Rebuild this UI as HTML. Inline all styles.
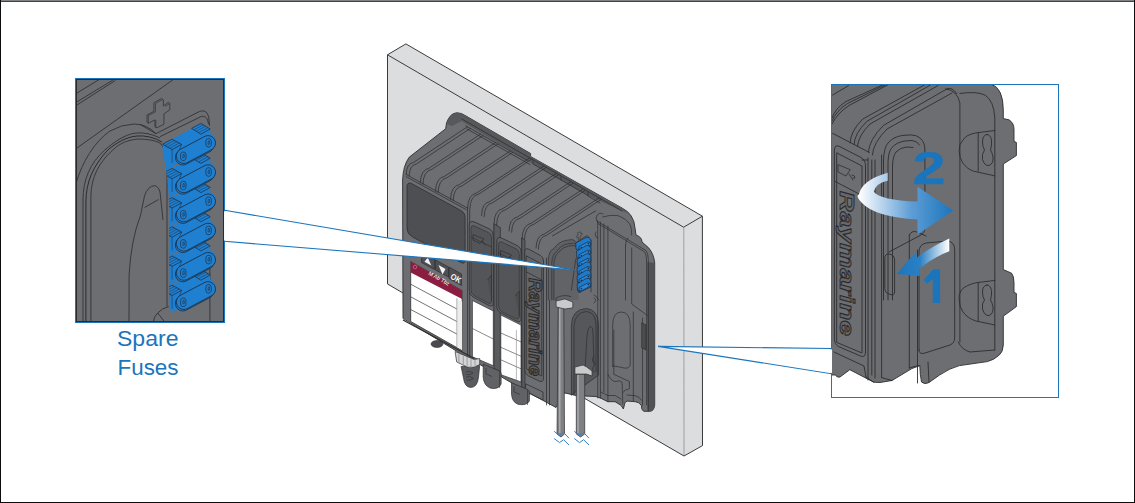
<!DOCTYPE html>
<html><head><meta charset="utf-8">
<style>
html,body{margin:0;padding:0;background:#fff;}
body{width:1135px;height:503px;overflow:hidden;position:relative;}
svg{position:absolute;left:0;top:0;display:block;}
</style></head>
<body>
<svg width="1135" height="503" viewBox="0 0 1135 503" font-family="Liberation Sans, sans-serif">
<!-- defs -->
<defs>
  <linearGradient id="g2" x1="859" y1="0" x2="953" y2="0" gradientUnits="userSpaceOnUse">
    <stop offset="0" stop-color="#ffffff"/><stop offset="0.55" stop-color="#5f9ed6"/><stop offset="1" stop-color="#1b75bc"/>
  </linearGradient>
  <linearGradient id="g1" x1="896" y1="0" x2="949" y2="0" gradientUnits="userSpaceOnUse">
    <stop offset="0" stop-color="#1b75bc"/><stop offset="0.45" stop-color="#2a80c4"/><stop offset="1" stop-color="#ffffff"/>
  </linearGradient>
  <clipPath id="clipL"><rect x="76" y="79" width="148" height="243"/></clipPath>
  <clipPath id="clipR"><rect x="831.5" y="84" width="227" height="313"/></clipPath>
  <clipPath id="clipFuse"><path d="M150,110 L230,110 L230,320 L186,320 L169,309 L169,200 Q168,172 162,150 L150,140 Z"/></clipPath>
<g id="fuse">
<path d="M-46,1.4 L-36.5,-3.6 L-17,-14.4 L-7.7,-19.4 L1.6,-13.8 L1.6,-9 Q6,-7.5 7.3,-2 Q8,4 3.5,6.6 L-21.9,20.1 Q-26,21.5 -30,20 L-46,31 Z" fill="#1f7fd1"/>
<path d="M-46,1.4 L-36.5,-3.6 L-27,1.6 L-36.5,6.8 Z" fill="#1f7fd1" stroke="#1c2a3a" stroke-width="0.7"/>
<path d="M-43.6,2.7 L-34.2,-2.3 M-41.2,4 L-31.8,-1 M-38.8,5.3 L-29.4,0.3" stroke="#1c2a3a" stroke-width="0.45" fill="none"/>
<path d="M-17,-14.4 L-7.7,-19.4 L1.6,-13.8 L-7.7,-8.6 Z" fill="#1f7fd1" stroke="#1c2a3a" stroke-width="0.7"/>
<path d="M-14.6,-13 L-5.3,-18 M-12.2,-11.7 L-2.9,-16.6 M-9.8,-10.3 L-0.5,-15.2" stroke="#1c2a3a" stroke-width="0.45" fill="none"/>
<path d="M-36.5,6.8 L-36.5,20 M-27,1.6 L-30,9" stroke="#1c2a3a" stroke-width="0.5" fill="none"/>
<path d="M-30.3,8.6 L-4.8,-4.9 A7.6,7.6 0 0 1 2.3,8.3 L-23.2,21.8 A7.6,7.6 0 0 1 -30.3,8.6 Z" fill="#1f7fd1" stroke="#1c2a3a" stroke-width="0.75"/>
<path d="M-28.9,6.9 L-3.5,-6.6 A7.5,7.5 0 0 1 3.5,6.6 L-21.9,20.1 A7.5,7.5 0 0 1 -28.9,6.9 Z" fill="#1f7fd1" stroke="#1c2a3a" stroke-width="0.8"/>
<path d="M-0.6,-4.3 Q2.6,-4.8 2.8,-1.5 L2.6,2.5 Q1.8,4.6 -0.5,4.3 Q-2.8,4 -2.8,1.3 L-2.7,-2 Q-2.4,-4 -0.6,-4.3 Z" fill="#1f7fd1" stroke="#1c2a3a" stroke-width="0.65"/>
<path d="M-0.3,-1.8 L1,-1.9 L1,1.3 L-0.6,1.6 Z" fill="none" stroke="#1c2a3a" stroke-width="0.55"/>
<path d="M-25.9,9.2 Q-22.7,8.7 -22.5,12 L-22.7,16 Q-23.5,18.1 -25.8,17.8 Q-28.1,17.5 -28.1,14.8 L-28,11.5 Q-27.7,9.5 -25.9,9.2 Z" fill="#1f7fd1" stroke="#1c2a3a" stroke-width="0.65"/>
<path d="M-25.6,11.7 L-24.3,11.6 L-24.3,14.8 L-25.9,15.1 Z" fill="none" stroke="#1c2a3a" stroke-width="0.55"/>
</g>
</defs>

<!-- frame -->
<rect x="0" y="0" width="1135" height="503" fill="#fff"/>
<rect x="0" y="0" width="1135" height="1" fill="#7f8386"/>
<rect x="0" y="1" width="1135" height="1" fill="#3f4446"/>
<rect x="0" y="0" width="1" height="503" fill="#0b0d0e"/>
<rect x="1134" y="0" width="1" height="503" fill="#0b0d0e"/>
<rect x="0" y="502" width="1135" height="1" fill="#0b0d0e"/>

<!-- wall -->
<g fill="#dcdddf" stroke="none">
  <polygon points="387.5,54.8 405.9,43.9 702.4,216.2 683.6,227.2"/>
  <polygon points="683.6,227.2 702.4,216.2 702.5,445.6 684,456"/>
  <polygon points="387.5,54.8 683.6,227.2 684,456 387.5,284"/>
</g>
<line x1="683.8" y1="227.5" x2="684" y2="455.5" stroke="#9d9ea0" stroke-width="1"/>
<path d="M387.5,284 L387.5,54.8 L405.9,43.9 L702.4,216.2 L702.5,445.6 L684,456 L387.5,284 Z M387.5,54.8 L683.6,227.2 L702.4,216.2" fill="none" stroke="#3b3b3b" stroke-width="1" stroke-linejoin="round"/>

<!-- device -->
<g id="device" stroke="#2e2e30" stroke-width="0.9" stroke-linejoin="round" stroke-linecap="round">
  <!-- silhouette -->
  <path d="M403,318 L402.6,180 Q403,166 409.1,157.3 L445.7,128.7 L446.5,123.1 Q450,113 456.8,112.8 Q461,112.5 466,116 L530.6,153.5 L530.6,156.5 L622,208 Q634,214 635,228 L636,235 Q642,237 642,242 L648.4,247.6 Q654,254 654.7,263 L654.7,405 Q654,411.3 649.6,411.3 L643.7,411.3 Q641.3,410 641.3,405.3 Q639,402 635.3,401.7 L627,401.1 Q624.6,402 624.6,404.1 L623.4,409 L621,405.3 L615,401.7 L607.9,401.7 L600.7,398.2 L596,396.5 L577,395.7 L564.5,392.9 L556,407.5 L522,389 L500,376 L458,352 Z" fill="#6d6e71"/>
</g>
<g fill="none" stroke="#2e2e30" stroke-width="0.75" stroke-linecap="round" stroke-linejoin="round">
  <!-- back plate lip -->
  <path d="M447,124 Q449,114 456.8,112.8 Q461,112.5 466,116 L530.6,153.5 L530.6,156.5 L622,208 Q626,210.5 627,213 L588,195.5 L561,180 L533,164 L461.6,121 L452,126 Z" fill="#57585b" stroke="none"/>
  <path d="M461.9,119 L533.4,160 L561.3,176 L588,191.5 L622,211"/>
  <path d="M465.8,125.9 L527.5,160.7"/>
  <path d="M467,129 L530,164.5"/>
  <path d="M533,160.5 L533,164 L561,180"/>
  <path d="M561,176.5 L561,180 L588,195.5"/>
  <path d="M588,192 L588,196 L600,203"/>
<path d="M420.3,183.0 Q420.6,169.8 429.3,168.0 L480.5,134.2"/>
<path d="M422.9,184.3 Q423.2,171.1 431.9,169.3 L483.0,135.6"/>
<path d="M435.5,191.3 Q435.8,178.1 444.5,176.3 L495.5,142.6"/>
<path d="M438.1,192.6 Q438.4,179.4 447.1,177.6 L498.0,144.0"/>
<path d="M450.5,199.5 Q450.8,186.2 459.5,184.5 L510.3,151.0"/>
<path d="M453.1,200.8 Q453.4,187.6 462.1,185.8 L512.7,152.4"/>
<path d="M406.2,174.5 Q406.5,163.5 413.4,162.5 L467.4,126.8"/>
<path d="M409.2,176.0 Q409.5,165.0 416.4,164.0 L470.3,128.4"/>
<path d="M467.6,208.0 Q467.9,194.8 476.6,193.0 L529.1,158.3"/>
<path d="M469.8,209.1 Q470.1,195.8 478.8,194.1 L531.2,159.5"/>
<path d="M481.5,215.5 Q481.8,203.0 489.9,201.5 L543.3,166.3"/>
<path d="M484.1,216.8 Q484.4,204.3 492.5,202.8 L545.7,167.7"/>
<path d="M494.0,223.5 Q494.3,210.2 503.0,208.5 L555.9,173.6"/>
<path d="M496.6,224.8 Q496.9,211.6 505.6,209.8 L558.3,175.0"/>
<path d="M509.0,231.0 Q509.3,218.5 517.4,217.0 L570.6,181.9"/>
<path d="M511.6,232.3 Q511.9,219.8 520.0,218.3 L573.0,183.3"/>
<path d="M522.0,239.0 Q522.3,225.0 531.6,223.0 L582.9,189.1"/>
<path d="M524.4,240.2 Q524.7,226.2 534.0,224.2 L585.2,190.4"/>
<path d="M536.0,248.0 Q536.3,235.5 544.4,234.0 L598.8,198.1"/>
<path d="M538.4,249.2 Q538.7,236.7 546.8,235.2 L601.1,199.4"/>

  <!-- module 1 front top edge -->
  <path d="M406.2,174.5 L467.3,208"/>
  <path d="M406.2,176.7 L466.5,209.8"/>
  <!-- module boundaries -->
  <path d="M467.6,208 L467.6,356"/>
  <path d="M469.7,210 L469.7,360"/>
  <path d="M494,224 L494,366"/>
  <path d="M496.8,225 L496.8,370"/>
  <path d="M521.8,238 L521.8,390"/>
  <path d="M524.2,240 L524.2,392"/>
  <path d="M552.5,235.9 L595.7,210.9"/>
</g>
<!-- separators -->
<path d="M494,224 L500.3,227.5 L500.3,372 L494,368.5 Z" fill="#5a5b5e" stroke="#2e2e30" stroke-width="0.7"/>
<path d="M521.8,238 L525,240 L525,392 L521.8,390 Z" fill="#5a5b5e" stroke="#2e2e30" stroke-width="0.7"/>
<!-- screen -->
<path d="M407,186 Q407,182.5 411,183.2 L461,210.6 Q465.1,213 465.1,217.5 L465.1,260 Q465.1,264.5 461,262.5 L413,237.3 Q407,234 407,229 Z" fill="#4e4f52" stroke="#2e2e30" stroke-width="0.8"/>
<!-- buttons -->
<g stroke="#2e2e30" stroke-width="0.7">
  <path d="M421.5,252.5 L434.5,259.5 L434.5,269.5 L421.5,262.5 Z" fill="#4f5053"/>
  <path d="M435.5,260 L448.5,267 L448.5,277 L435.5,270 Z" fill="#4f5053"/>
  <path d="M449,267 L461.5,274 L461.5,285.5 L449,278.5 Z" fill="#4f5053"/>
</g>
<path d="M427.8,257.5 L431.3,265.5 L424.5,261.8 Z" fill="#f4f4f4"/>
<path d="M438.5,265 L445.5,269 L442.5,274.5 Z" fill="#f4f4f4"/>
<text x="0" y="0" font-size="8.5" font-weight="bold" fill="#f4f4f4" transform="translate(449.8,278.2) rotate(29) scale(0.85,1)">OK</text>
<!-- label module 1 -->
<path d="M410.7,261.5 L462.1,290.5 L462.1,350.5 L410.7,321.5 Z" fill="#ffffff" stroke="#2e2e30" stroke-width="0.8"/>
<path d="M410.7,261.5 L462.1,290.5 L462.1,299 L410.7,272.5 Z" fill="#8b1d41"/>
<path d="M456.8,299 L462.1,301.5 L462.1,350 L456.8,347 Z" fill="#ececed"/>
<g stroke="#3a3a3a" stroke-width="0.7" fill="none">
  <path d="M410.7,284.2 L456.8,309"/>
  <path d="M410.7,296.8 L456.8,321.5"/>
  <path d="M410.7,309.5 L456.8,334"/>
  <path d="M456.8,298 L456.8,347" stroke="#8a8a8a" stroke-width="0.6"/>
</g>
<text x="0" y="0" font-size="5.5" fill="#fff" transform="translate(428,274.5) rotate(29)">M Ab Tbz</text>
<circle cx="415" cy="267" r="1.8" fill="none" stroke="#d9a0b5" stroke-width="0.5"/>
<ellipse cx="437" cy="344" rx="6" ry="3.5" fill="#4a4b4e" stroke="#2e2e30" stroke-width="0.6"/>
<!-- module 2 tab -->
<path d="M469.2,226 Q469.2,220 474,221.8 L489.8,229.1 Q493.3,231 493.3,236 L493.3,303 Q493.3,307.5 489,305.5 L473,297 Q469.2,295 469.2,290 Z" fill="#626366" stroke="#2e2e30" stroke-width="0.8"/>
<path d="M471,229 Q471,224.5 474.5,226 L488.5,232.6 Q491.5,234 491.5,238 L491.5,301 Q491.5,304.5 488,303 L474,295.5 Q471,294 471,290 Z" fill="#545558" stroke="#2e2e30" stroke-width="0.6"/>
<path d="M471,237 L491.5,247" stroke="#2e2e30" stroke-width="0.6" fill="none"/>
<path d="M473,234.5 L473,240 L480,243.5 L484,239 Z M482,240.5 L485.5,245.5" stroke="#2e2e30" stroke-width="0.7" fill="none"/>
<path d="M487.5,280 L491.5,275 L491.5,300" stroke="#2e2e30" stroke-width="0.6" fill="#4c4d50"/>
<!-- module 3 tab -->
<path d="M496.8,242 Q496.8,236 501.5,238 L517,245.5 Q521.1,247.5 521.1,252 L521.1,318.5 Q521.1,323 516.5,321 L501,313 Q496.8,311 496.8,306 Z" fill="#626366" stroke="#2e2e30" stroke-width="0.8"/>
<path d="M498.6,245 Q498.6,240.5 502,242 L516,248.8 Q519.3,250.5 519.3,254.5 L519.3,316.5 Q519.3,320 515.5,318.5 L501.5,311.5 Q498.6,310 498.6,306 Z" fill="#545558" stroke="#2e2e30" stroke-width="0.6"/>
<path d="M498.6,253 L519.3,263" stroke="#2e2e30" stroke-width="0.6" fill="none"/>
<path d="M500.5,250.5 L500.5,256 L507.5,259.5 L511.5,255 Z M509.5,256.5 L513,261.5" stroke="#2e2e30" stroke-width="0.7" fill="none"/>
<path d="M515.3,296 L519.3,291 L519.3,316" stroke="#2e2e30" stroke-width="0.6" fill="#4c4d50"/>
<!-- labels module 2 & 3 -->
<path d="M472.4,300.5 L493.3,311 L493.3,365.8 L472.4,356.8 Z" fill="#fff" stroke="#2e2e30" stroke-width="0.7"/>
<path d="M500.8,315 L521,325 L521,381.9 L500.8,374.7 Z" fill="#fff" stroke="#2e2e30" stroke-width="0.7"/>
<g stroke="#3a3a3a" stroke-width="0.6" fill="none">
  <path d="M472.4,328.5 L493.3,339"/>
  <path d="M500.8,333 L521,341.9 M500.8,347.3 L521,356.2 M500.8,359.8 L521,368.8"/>
  <path d="M516.4,330 L516.4,380" stroke="#8a8a8a"/>
</g>

<!-- device2 -->
<!-- module 4: raymarine strip -->
<g stroke="#2e2e30" fill="none" stroke-width="0.75" stroke-linecap="round" stroke-linejoin="round">
  <path d="M524.7,252 Q524.7,247.5 528.5,249 L540.5,255.5 Q543.5,257 543.5,261 L543.5,378 Q543.5,383 539,381 L528.5,376 Q524.7,374 524.7,370 Z" fill="#646568"/>
  <path d="M526.6,256 L541.8,264 L541.8,376 L526.6,369 Z"/>
  <path d="M526.6,272 L541.8,280"/>
  <path d="M526,384 L543,392 L543,400 L526,392 Z"/>
  <path d="M546.5,258 L546.5,405"/>
  <path d="M549.5,258 L549.5,405"/>
</g>
<text x="0" y="0" font-size="17.5" font-weight="bold" font-style="italic" fill="#5d5e61" stroke="#2a2a2c" stroke-width="0.95" transform="translate(528.5,278) rotate(90)" textLength="98" lengthAdjust="spacingAndGlyphs">Raymarine</text>
<path d="M529,262 L533,264 L531,267 M535,266 L538,268" stroke="#2e2e30" stroke-width="0.6" fill="none"/>
<!-- fuse bay -->
<path d="M548.5,300 L548.5,262 Q549,250 554,248.7 Q558,242 566.4,240.3 L572,239.6 Q574,239.8 576.2,242.4 L576.5,300 Z" fill="#606164" stroke="none"/>
<path d="M553.9,300 L553.9,264 Q554.5,256 558.1,252.8 Q562.5,247 568.5,246 L574,245.5 Q577,246.5 578.5,250 L578.5,300 Z" fill="#626366" stroke="none"/>
<g stroke="#2e2e30" fill="none" stroke-width="0.7" stroke-linecap="round" stroke-linejoin="round">
  <path d="M548.3,300 L548.3,259.8 Q549,250 553.9,248.7 Q558,242 566.4,240.3 L572,239.6 Q574,239.8 576.2,242.4 L585.9,236.1 Q588,235.5 588.7,236.8 L589,240"/>
  <path d="M551.8,300 L551.8,262.6 Q552.5,254 556.7,251.4 Q561,245 567.8,243.8 L573.4,243.1 Q575.5,243.5 577.6,245.9"/>
  <path d="M553.9,300 L553.9,264 Q554.5,256 558.1,252.8 Q562.5,247 568.5,246 L574,245.5 Q577,246.5 578.5,250 L578.5,292"/>
  <path d="M571.4,290 L575.6,259.8 Q576.5,256.5 579.1,256.3 Q580.8,256.5 581.2,258.4 L581.9,266.7"/>
  <path d="M577.5,233 L580,231.7 L580.5,233.5 L582,233 L582,235 L580.3,236 L580.3,238.5 L578.2,239.6 L578.2,237 L576.8,237.8 L576.8,235.8 L578.2,235 Z" stroke-width="0.5"/>
  <path d="M591,240 L591,292"/>
</g>
<!-- small fuses -->


<g stroke="#1b2a3c" stroke-width="0.7" stroke-linejoin="round">
<path d="M575.7,243.0 L586,237.5 Q590,236.5 590.8,240.5 L590.8,246.0 L579,251.5 L576.0,249.0 Z" fill="#1e7bcc"/>
<path d="M579,246.5 L588,241.8 Q591,242.0 590.5,245.0 L581,250.0 Q578,250.0 579,246.5" fill="#2a86d6"/>
<path d="M577.5,249.0 L581,251.2" fill="none"/>
<circle cx="588.3" cy="243.8" r="0.8" fill="#1b2a3c" stroke="none"/><circle cx="581.4" cy="247.6" r="0.8" fill="#1b2a3c" stroke="none"/>
<path d="M576.5,251.2 L586,245.7 Q590,244.7 590.8,248.7 L590.8,254.2 L579,259.7 L576.8,257.2 Z" fill="#1e7bcc"/>
<path d="M579,254.7 L588,250.0 Q591,250.2 590.5,253.2 L581,258.2 Q578,258.2 579,254.7" fill="#2a86d6"/>
<path d="M577.5,257.2 L581,259.4" fill="none"/>
<circle cx="588.3" cy="252.0" r="0.8" fill="#1b2a3c" stroke="none"/><circle cx="581.4" cy="255.8" r="0.8" fill="#1b2a3c" stroke="none"/>
<path d="M577.1,259.4 L586,253.9 Q590,252.9 590.8,256.9 L590.8,262.4 L579,267.9 L577.4,265.4 Z" fill="#1e7bcc"/>
<path d="M579,262.9 L588,258.2 Q591,258.4 590.5,261.4 L581,266.4 Q578,266.4 579,262.9" fill="#2a86d6"/>
<path d="M577.5,265.4 L581,267.6" fill="none"/>
<circle cx="588.3" cy="260.2" r="0.8" fill="#1b2a3c" stroke="none"/><circle cx="581.4" cy="264.0" r="0.8" fill="#1b2a3c" stroke="none"/>
<path d="M577.1,267.6 L586,262.1 Q590,261.1 590.8,265.1 L590.8,270.6 L579,276.1 L577.4,273.6 Z" fill="#1e7bcc"/>
<path d="M579,271.1 L588,266.4 Q591,266.6 590.5,269.6 L581,274.6 Q578,274.6 579,271.1" fill="#2a86d6"/>
<path d="M577.5,273.6 L581,275.8" fill="none"/>
<circle cx="588.3" cy="268.4" r="0.8" fill="#1b2a3c" stroke="none"/><circle cx="581.4" cy="272.2" r="0.8" fill="#1b2a3c" stroke="none"/>
<path d="M577.1,275.8 L586,270.3 Q590,269.3 590.8,273.3 L590.8,278.8 L579,284.3 L577.4,281.8 Z" fill="#1e7bcc"/>
<path d="M579,279.3 L588,274.6 Q591,274.8 590.5,277.8 L581,282.8 Q578,282.8 579,279.3" fill="#2a86d6"/>
<path d="M577.5,281.8 L581,284.0" fill="none"/>
<circle cx="588.3" cy="276.6" r="0.8" fill="#1b2a3c" stroke="none"/><circle cx="581.4" cy="280.4" r="0.8" fill="#1b2a3c" stroke="none"/>
<path d="M577.1,284.0 L586,278.5 Q590,277.5 590.8,281.5 L590.8,287.0 L579,292.5 L577.4,290.0 Z" fill="#1e7bcc"/>
<path d="M579,287.5 L588,282.8 Q591,283.0 590.5,286.0 L581,291.0 Q578,291.0 579,287.5" fill="#2a86d6"/>
<path d="M577.5,290.0 L581,292.2" fill="none"/>
<circle cx="588.3" cy="284.8" r="0.8" fill="#1b2a3c" stroke="none"/><circle cx="581.4" cy="288.6" r="0.8" fill="#1b2a3c" stroke="none"/>
</g>
<!-- lower bay -->
<g stroke="#2e2e30" fill="none" stroke-width="0.7" stroke-linecap="round" stroke-linejoin="round">
  <path d="M571.4,395 L571.4,325 Q572,309 586.7,308.5 Q598,309.5 598.6,325 L598.6,375 L571.4,395" fill="#56575a"/>
  <path d="M574,395 L574,326 Q575,312 586.7,311.5 Q596,312.5 596,326 L596,372"/>
  <path d="M585,370 L587,336 Q588,326.5 591,326.5 Q593,327 593,333 L594,366"/>
  <path d="M556,300.9 L556,298 Q563,294 571,296.5"/>
  <path d="M598.6,300 Q597,296 594,295 M594,298 L596,300 L594,303"/>
</g>
<!-- right plate -->
<path d="M647.2,262 L654.7,263 L654.7,405 Q654,411.3 649.6,411.3 L647.2,411 Z" fill="#525356" stroke="none"/>
<g stroke="#2e2e30" fill="none" stroke-width="0.7" stroke-linecap="round" stroke-linejoin="round">
  <path d="M597.7,221 L597.7,398"/>
  <path d="M600.4,222 L600.4,398.2"/>
  <path d="M603.9,224 L603.9,392"/>
  <path d="M607.9,226 L607.9,401.7"/>
  <path d="M597,221.1 L645.7,250.4 Q648.4,253 648.4,262.9 L648.4,411"/>
  <path d="M598,223.5 L644.5,251.8 Q646.6,254 646.6,263 L646.6,405"/>
  <path d="M602.5,217 Q610,214.5 617.8,215.6 Q627,219 630.4,225.3 Q631.7,229 631.7,235"/>
  <path d="M625.5,245 Q626,240 628,238 M625.5,245 L625.5,300"/>
  <path d="M631.7,248 L631.7,304 L647.6,315.6"/>
  <path d="M642.5,318 L642.5,405.3"/>
  <path d="M633.3,312 L633.3,401"/>
  <path d="M612.7,366 L612.7,325 Q612.7,312 621.5,312 Q630.2,312.5 630.2,325 L630.2,364 Q630,369 624,368 L617,366.5 Q612.7,366 612.7,366 Z"/>
  <path d="M607.9,374.3 Q611,381 615,381.5 L619.8,380.9 Q622.2,381.5 622.2,383.8 L622.8,404"/>
  <path d="M613.8,330 L613.8,374.3 L629.4,381.5 L629.4,388.6 Q628,389.8 625.8,389.8 Q623.4,391 623.4,392.2"/>
  <path d="M600.7,392 L607.9,395.5 L615,395.5 L621,399"/>
  <path d="M627,395 L635.3,395.7 Q640,397 641.3,400"/>
  <path d="M642,323 L646,325 L646,350 L642,348 Z" fill="#4b4c4e"/>
  <path d="M597.5,222 L596,218 Q597,214 600,213 L603,214 M596,232 Q594,234 596,237 L598,238"/>
  <path d="M594,356 Q591,358 593,362 L596,364 M594,366 Q591,369 594,372"/>
</g>
<!-- cables -->
<g stroke="#2e2e30" stroke-width="0.7">
  <path d="M558.2,307 L563.8,307 L564.5,434 L561,437 L557,434 Z" fill="#7f8083"/>
  <path d="M559.8,308 L559.8,433" stroke="#b2b3b5" stroke-width="1.2"/>
  <path d="M576.3,374 L584.7,374 L584.7,434 L580.5,437 L576.3,434 Z" fill="#7f8083"/>
  <path d="M578,375 L578,433" stroke="#b2b3b5" stroke-width="1.2"/>
  <path d="M556.1,301 L565,299 L572.8,302 L572.8,307.8 L565,309 L556.1,307 Z" fill="#c9cacc"/>
  <path d="M574.9,367.1 L583,365 L586.7,367 L592,371 L592,376 L586.7,374.1 L574.9,374 Z" fill="#c9cacc"/>
</g>
<g stroke="#2f80c9" stroke-width="1" fill="none">
  <path d="M554.1,431.3 L559.5,435.6 L563.6,432.5 L569,438.2"/>
  <path d="M554.1,438.5 L559.5,442.6 L563.6,439.7 L569,445"/>
  <path d="M574.3,431.3 L579.5,435.6 L583.6,432.5 L589,438.2"/>
  <path d="M574.3,438.5 L579.5,442.6 L583.6,439.7 L589,445"/>
</g>
<!-- connectors under modules -->
<g stroke="#2e2e30" stroke-width="0.7" stroke-linejoin="round">
  <path d="M461.1,366.5 L479.7,365.5 L478.5,377 Q477.5,387.5 470.5,387.5 Q464.5,387 463.5,378 Z" fill="#5a5b5e"/>
  <path d="M466,372 Q470,370 473,373 Q470,375.5 466.5,374.5 M466,377 Q470,375.5 473.5,378.5 Q470,381 466.5,380" fill="none" stroke-width="0.6"/>
  <path d="M455.1,351.5 L474.2,359.5 L479.7,358.5 L479.7,364.6 Q474,368.5 467.7,367.3 L456.7,361.9 Z" fill="#d4d5d7"/>
  <path d="M458.9,353 L458.9,363.5 M463.3,355 L463.3,365.5 M467.1,357 L467.1,367 M471,358.5 L471,367.5 M475,359.5 L475,367" fill="none" stroke="#9c9da0" stroke-width="1"/>
  <path d="M483.2,364 L499.6,371 L501.1,373 L501.1,384 Q498.5,390 490,388 Q483.8,385.5 483.2,377 Z" fill="#616265"/>
  <path d="M486,368 L486,374 L492,376.5 M499.6,371 L499.6,388" fill="none" stroke-width="0.6"/>
  <path d="M511.5,382.7 L527.5,389.5 L529.4,391 L529.4,401 Q526.5,406 518,404.3 Q512,402 511.5,394 Z" fill="#616265"/>
  <path d="M514,386.5 L514,392 L520,394.5 M527.5,389.5 L527.5,405" fill="none" stroke-width="0.6"/>
</g>
<path d="M403,320 L474.2,358.5" stroke="#2e2e30" stroke-width="1.3" fill="none"/>

<!-- left -->
<g>
<rect x="75.5" y="78.5" width="149" height="244" fill="#6d6e71" stroke="#1b75bc" stroke-width="1"/>
<g clip-path="url(#clipL)" fill="none" stroke="#2b2b2d" stroke-width="0.8">
  <path d="M76.9,93.1 L99,79.6"/>
  <path d="M76.9,101.9 L113,80"/>
  <path d="M76.9,105 L115.5,80.4"/>
  <path d="M76.9,148 L174,79"/>
  <!-- bay outline -->
  <path d="M76.5,182 C 82,163 94,142 110,131 Q 121,124.5 134,124 Q 147,124 155.9,133.7 L199.6,111.4 Q206,109 208.6,116.3 L209.6,125.8"/>
  <path d="M159.9,136.7 L201.6,116.3 Q206,116 207.6,120 L208.6,124.3"/>
  <path d="M140,124.3 L155.9,133.7"/>
  <path d="M83,322 L83,200 C 83,180 90,163 104.8,150 C 113,143 124,134.5 136,133 Q 148,132 160,138"/>
  <path d="M85.9,322 L85.9,202 C 86,182 93,166 107.8,150 C 116,143 126,137 137,136 Q 150,135 162,142" stroke-width="1"/>
  <path d="M90.9,322 L90.9,196 C 91,178 99,162 112.8,150 C 120,143 128,140 138,139 Q 152,139 160,143 Q 165,148 167,160 L167,306.6"/>
  <!-- blade -->
  <path d="M129,322 L129.1,274.8 Q 131,240 140.6,215 L144.6,195.5 Q 148,186 154.5,185.6 Q 158.5,186.5 160,192 L163,220"/>
  <path d="M144.6,207.5 L158.5,199.5"/>
  <!-- bottom step -->
  <path d="M153,323 Q154,316 157.7,313 Q162,308 168.8,306.6"/>
  <path d="M157.7,313 L164,321"/>
  <path d="M209.9,268 L209.9,322"/>
  <!-- plus sign -->
  <path d="M154.4,102.4 L161.4,98.5 L163.4,99.9 L163.4,105.9 L168.3,102.4 L169.8,103.4 L169.8,109.9 L163.9,113.9 L163.9,124.3 L156.9,127.8 L154.9,126.8 L154.9,119.8 L148.4,123.3 L147,122.3 L147,114.9 L153.9,111.4 L153.9,102.9 Z" stroke-width="0.7"/>
  <path d="M155.5,103.3 L163,99.3 M155.5,103.3 L155.5,111.8 L148.4,115.6 M148.4,115.6 L148.4,123 M155.8,120 L155.8,127.5 M164.8,106.5 L169.6,103.6" stroke-width="0.6"/>
</g>
<g clip-path="url(#clipFuse)">
  <use href="#fuse" x="208.6" y="288.8"/>
  <use href="#fuse" x="208.6" y="259.6"/>
  <use href="#fuse" x="208.6" y="230.4"/>
  <use href="#fuse" x="208.6" y="201.2"/>
  <use href="#fuse" x="208.6" y="172"/>
  <use href="#fuse" x="208.6" y="142.8"/>
</g>
<rect x="76.5" y="79.5" width="147" height="242" fill="none" stroke="#2b2b2d" stroke-width="1"/>
<rect x="75.5" y="78.5" width="149" height="244" fill="none" stroke="#1b75bc" stroke-width="1"/>
</g>
<text x="117" y="346.4" font-size="22.3" fill="#1b75bc" textLength="61.5" lengthAdjust="spacingAndGlyphs">Spare</text>
<text x="117.5" y="375.1" font-size="22" fill="#1b75bc" textLength="61" lengthAdjust="spacingAndGlyphs">Fuses</text>

<!-- right -->
<g clip-path="url(#clipR)">
<path d="M831,84 L991,84 Q1003.3,88 1003.3,110 L1003.3,118.6 L1009,119.8 Q1014,123 1014,129.3 L1014,141.3 L1016.4,142.5 L1016.4,155.6 L1003.3,164 L1003.3,269.6 L1011.6,273.2 Q1014,276 1014,282.8 L1014,292.3 L1016.4,293.5 L1016.4,306.6 L1003.3,316.2 L1003.3,345 Q1003,352 999.3,355 Q994,360 987.4,361.6 L959.5,365.6 Q950,368 939.6,375 L929,382.5 Q925,385 921.5,382 Q920,375 919.8,365.6 L911.8,368.6 L892,380.5 L880,382.5 L873.7,382.2 L849.8,369.7 L840,377 Q837,378 835.5,375 L831,375 Z" fill="#6d6e71" stroke="#2e2e30" stroke-width="0.9"/>
<g fill="none" stroke="#2e2e30" stroke-width="0.9" stroke-linecap="round" stroke-linejoin="round">
  <!-- top rims -->
  <path d="M832.6,95.1 L848.5,85.6"/>
  <path d="M832,118 Q835,108.5 846,101.5 L883.5,84.5"/>
  <path d="M832,121 Q836,111 847.5,103.5 L886,84.5"/>
  <path d="M832,124 Q837,113.5 849,105.5 L888.5,84.5"/>
  <path d="M850.1,142.9 Q850.5,131 862.8,119 L923.3,85.6 L926,84"/>
  <path d="M854,144.5 Q854.5,133.5 866.8,121.4 L928,86.4 L931,84.5"/>
  <path d="M857.5,146.5 Q858,136 870,124 L932,89 L938,85.5"/>
  <path d="M868.4,152.4 Q869,139.7 883.5,125.4 L947.1,88.8 Q952,86.8 956.7,93.5"/>
  <path d="M872.4,155 Q873,143 887,129 L952,93"/>
  <path d="M945.6,88.8 Q957,90 959.9,103 L959.9,342"/>
  <!-- front face top edge -->
  <path d="M832.6,133.3 L869.2,152.4"/>
  <!-- raymarine strip -->
  <path d="M834.4,150 Q834.4,144.4 839,146.2 L861,157.5 Q865.5,160 865.5,166 L865.5,352 Q865.5,358 860.5,356 L838.5,346.5 Q834.4,344.5 834.4,339 Z"/>
  <path d="M837,153 L862,166 L862,353 L837,342.5 Z"/>
  <path d="M835.2,181.5 L862,195.5"/>
  <path d="M834,352 L864,366 L866,377"/>
  <path d="M862,160 L868,160 M868,158 L868,380"/>
  <!-- R icon -->
  <path d="M838,165 L838,172 L846,176 L850,170 Z M849,174 L853,180 M852,175 Q855,175 855,178 L853,178" stroke-width="0.8"/>
  <!-- verticals -->
  <path d="M871.8,160 L871.8,375"/>
  <path d="M875,160 L875,378"/>
  <path d="M881.6,155 L881.6,377.6"/>
  <!-- arches -->
  <path d="M883.5,300 L883.5,160 Q884,147.6 888,143 Q893,137 902,135.5 L910.6,134.9 Q917,135 920.1,138.1 Q924.9,142 924.9,150 L924.9,228 Q924.9,233 920,235.5 L889,252"/>
  <path d="M888,300 L888,162 Q888.5,151 892,147.5 Q897,142 905,141 L912,140.5 Q917.5,141 919.5,145"/>
  <path d="M892.5,300 L892.5,165 Q893,156 896,152 Q900,147.5 907,147 L913,147.5"/>
  <!-- cover -->
  
  <path d="M959.9,93.5 Q976,91 985,95 Q994,101 994.8,118 L994.8,350"/>
  <!-- keyhole ear 1 -->
  <path d="M994.9,130.5 L975.8,132.9 Q966,135 963.9,138.9 Q958.5,144 959.1,150.8 Q959.5,158 962.7,162.8 Q967,169 973.4,171.1 L994.9,175.9"/>
  <path d="M978.2,132.9 L978.2,171.1"/>
  <path d="M987,134.5 Q982.5,135 982.5,142 Q982.5,147 984.5,150 Q981.5,154 982.5,159.5 Q984.5,166 989,165.5 Q993.5,164 993,157 Q992,152 990.5,150 Q992,145 991.5,140 Q990.5,134.5 987,134.5 Z"/>
  <!-- keyhole ear 2 -->
  <path d="M994.9,280.4 L975.8,282.8 Q966,285 961.5,289.9 Q958.5,294 959.1,299.5 Q959.5,307 962.7,311.4 Q967,318 975.8,321 L994.9,325"/>
  <path d="M978.2,283 L978.2,321"/>
  <path d="M987,285 Q982.5,285.5 982.5,292 Q982.5,297 984.5,300 Q981.5,303.5 982.5,309 Q984.5,316 989,315.5 Q993.5,314 993,307 Q992,302 990.5,300 Q992,295 991.5,290.5 Q990.5,285 987,285 Z"/>
  <!-- lower slot -->
  <path d="M919,350 L919,252 Q919,244.5 926,243 L947,241 Q954.7,241.5 954.7,250 L954.7,338 Q954.7,343 950,345 L925,353 Q919,355 919,350 Z"/>
  <path d="M917.5,250 L917.5,383"/>
  <path d="M909.3,235 L909.3,368"/>
  <path d="M909.3,235 Q912,230 917,232 L926,236"/>
  <!-- small slot -->
  <path d="M884.8,258 Q884.8,253.6 889,254 Q894.6,255 894.6,260 L894.6,292 Q894.6,296 890,294.4 Q884.8,293 884.8,289 Z"/>
  <!-- bottom details -->
  <path d="M881.6,377.6 L892,380.5"/>
  <path d="M958.2,342 Q962,350 970,352 L994.8,350"/>
  <path d="M909.3,368 Q915,366 919.8,365.6"/>
  <path d="M866,377 L873.7,382.2"/>
  <path d="M928,362 L929,382"/>
</g>
</g>
<rect x="831.5" y="84.5" width="227" height="313" fill="none" stroke="#1b75bc" stroke-width="1"/>
<!-- arrow 2 -->
<path d="M887.7,172.8 L887.7,180.7 Q876,183 873.8,191.7 Q880,200 917.5,201.6 L917.5,186.7 L953.3,210.5 L917.5,234.4 L917.5,219.5 Q875,217 862,203 Q855,196 858.9,194.6 Q862,180 887.7,172.8 Z" fill="url(#g2)"/>
<text x="912.5" y="183.5" font-size="46.5" font-weight="bold" fill="#1b75bc" stroke="#1b75bc" stroke-width="0.4" textLength="33" lengthAdjust="spacingAndGlyphs">2</text>
<!-- arrow 1 -->
<path d="M949.3,238.4 L949.3,251.3 Q932,258 919.8,268.6 L919.8,276 L896.5,274 L916.3,251.3 L916.3,258 Q932,246 949.3,238.4 Z" fill="url(#g1)"/>
<path d="M933.3,269.3 L940.1,269.3 L940.1,303 L932.8,303 L932.8,279 L926.9,284 L923.7,279.8 Z" fill="#1b75bc"/>
<text x="0" y="0" font-size="21" font-weight="bold" font-style="italic" fill="#66676a" stroke="#2a2a2c" stroke-width="0.9" transform="translate(840,191) rotate(90)" textLength="145" lengthAdjust="spacingAndGlyphs">Raymarine</text>

<!-- overlay -->
<polygon points="224.7,210.3 576,270 224.7,241.3" fill="#fff" stroke="#1b75bc" stroke-width="1.1" stroke-linejoin="miter"/>
<rect x="224.05" y="211.3" width="2" height="29.2" fill="#fff"/>
<polygon points="831,348.5 658.1,346.4 831,373.7" fill="#fff" stroke="#1b75bc" stroke-width="1.1"/>
<rect x="830" y="349.4" width="2" height="23.5" fill="#fff"/>

</svg>
</body></html>
